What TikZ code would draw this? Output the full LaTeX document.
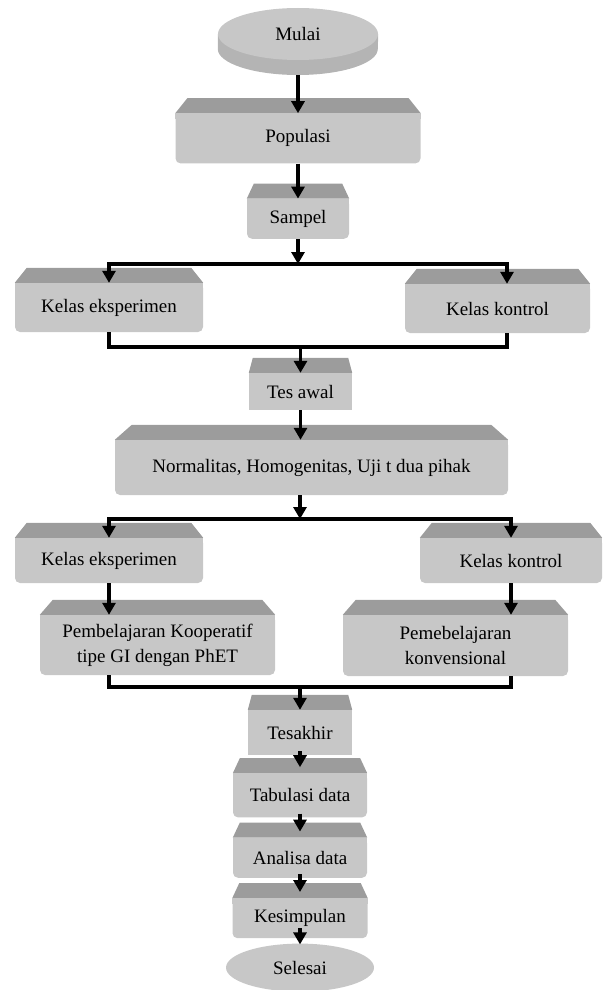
\documentclass[tikz,border=0pt]{standalone}
\usepackage{fontspec}
\setmainfont{Liberation Serif}
\usetikzlibrary{positioning,arrows.meta,backgrounds,shapes.geometric}

\definecolor{boxgray}{RGB}{199,199,199}
\definecolor{bevelgray}{RGB}{156,156,156}
\definecolor{rimgray}{RGB}{180,180,180}

\begin{document}
\begin{tikzpicture}[
  x=1pt,y=1pt,
  every node/.style={font=\fontsize{19}{25}\selectfont,text=black},
  box/.style={fill=boxgray,rounded corners=5pt,align=center,inner sep=0pt},
  disc/.style={ellipse,fill=boxgray,inner sep=0pt},
  arr/.style={-{Triangle[length=12pt,width=13pt]},line width=3.4pt},
  joint/.style={line width=3.4pt}
]
\useasboundingbox (0,0) rectangle (608,-990);

% start and first column
\node[disc,minimum width=160pt,minimum height=52pt] (mulai) at (298,-34) {Mulai};
\node[box,minimum width=245pt,minimum height=50pt,below=53pt of mulai] (populasi) {Populasi};
\node[box,minimum width=102pt,minimum height=40pt,below=35pt of populasi] (sampel) {Sampel};

% first split
\node[box,minimum width=188pt,minimum height=49pt] (eksp1) at (109,-307.5) {Kelas eksperimen};
\node[box,minimum width=185pt,minimum height=49pt] (kontrol1) at (497.5,-308.5) {Kelas kontrol};

\node[box,minimum width=103pt,minimum height=37pt,rounded corners=0pt] (tesawal) at (300.5,-391.5) {Tes awal};
\node[box,minimum width=393pt,minimum height=55pt] (normal) at (311.5,-467.5) {Normalitas, Homogenitas, Uji t dua pihak};

% second split
\node[box,minimum width=188pt,minimum height=45pt] (eksp2) at (109,-560.5) {Kelas eksperimen};
\node[box,minimum width=182pt,minimum height=45pt] (kontrol2) at (511,-560.5) {Kelas kontrol};
\node[box,minimum width=235pt,minimum height=60pt] (koop) at (157.5,-645) {Pembelajaran Kooperatif\\tipe GI dengan PhET};
\node[box,minimum width=225pt,minimum height=61pt] (konv) at (455.5,-645.5) {Pemebelajaran\\konvensional};

% end column
\node[box,minimum width=104pt,minimum height=45pt,rounded corners=0pt] (tesakhir) at (300,-732.5) {Tesakhir};
\node[box,minimum width=134pt,minimum height=44pt,below=18pt of tesakhir] (tabulasi) {Tabulasi data};
\node[box,minimum width=134pt,minimum height=40pt,below=20pt of tabulasi] (analisa) {Analisa data};
\node[box,minimum width=135pt,minimum height=40pt,below=20pt of analisa] (kesimpulan) {Kesimpulan};
\node[disc,minimum width=148pt,minimum height=48pt,below=5pt of kesimpulan] (selesai) {Selesai};

% bevels
\begin{scope}[on background layer]
\foreach \n/\ins in {populasi/12,sampel/7,eksp1/12,kontrol1/12,tesawal/4,normal/17,eksp2/12,kontrol2/12,koop/13,konv/13,tesakhir/4,tabulasi/7,analisa/7,kesimpulan/7}{
  \fill[bevelgray] (\n.north west) -- ++(\ins,15) -- ([shift={(-\ins,15)}]\n.north east) -- (\n.north east) -- cycle;
  \fill[boxgray] (\n.north west) rectangle ([yshift=-6pt]\n.north east);
}
\fill[rimgray] (mulai.west) -- ++(0,-15) arc[start angle=180,end angle=360,x radius=80,y radius=26] -- (mulai.east) -- cycle;
\end{scope}

\coordinate (s1) at ([yshift=-25pt]sampel.south);
\coordinate (m1) at ([yshift=26pt]tesawal.north);
\coordinate (s2) at (300,-519);
\coordinate (m2) at ([yshift=23pt]tesakhir.north);

\draw[arr] ([yshift=-15pt]mulai.south) -- (populasi);
\draw[arr] (populasi) -- (sampel);
\draw[arr] (sampel) -- (s1);
\draw[arr] (s1) -| (eksp1);
\draw[arr] (s1) -| ([xshift=9.5pt]kontrol1.north);
\draw[joint] (eksp1) |- (m1) -| ([xshift=9.5pt]kontrol1.south);
\draw[arr] (m1) -- (tesawal);
\draw[arr] (tesawal) -- (tesawal |- normal.north);
\draw[arr] (normal.south -| s2) -- (s2);
\draw[arr] (s2) -| (eksp2);
\draw[arr] (s2) -| (kontrol2);
\draw[arr] (eksp2) -- (eksp2 |- koop.north);
\draw[arr] (kontrol2) -- (kontrol2 |- konv.north);
\draw[joint] (koop.south -| eksp2) |- (m2) -| (konv.south -| kontrol2);
\draw[arr] (m2) -- (tesakhir);
\draw[arr,shorten >=6pt] ([yshift=4pt]tesakhir.south) -- (tabulasi);
\draw[arr,shorten >=6pt] ([yshift=4pt]tabulasi.south) -- (analisa);
\draw[arr,shorten >=6pt] ([yshift=4pt]analisa.south) -- (kesimpulan);
\draw[arr] ([yshift=10pt]kesimpulan.south) -- ([yshift=-1pt]selesai.north);
\end{tikzpicture}
\end{document}
